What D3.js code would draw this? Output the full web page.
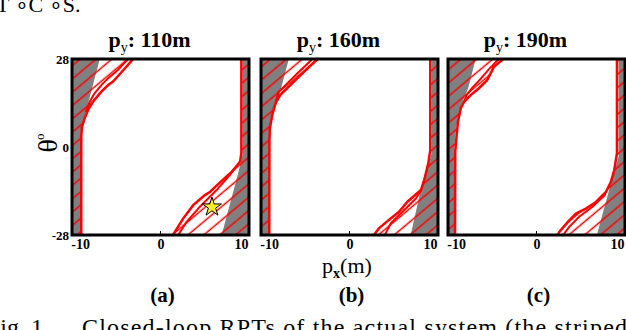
<!DOCTYPE html>
<html>
<head>
<meta charset="utf-8">
<script src="https://cdn.jsdelivr.net/npm/d3@7"></script>
<style>
  body { margin: 0; background: #fff; }
  svg { display: block; }
  svg text { font-family: "Liberation Serif", "Times New Roman", serif; }
</style>
</head>
<body>
<script>
// panel labels and titles
const panelIds = ["(a)", "(b)", "(c)"];
const pyValues = ["110m", "160m", "190m"];
const xTicks = [-10, 0, 10];
const yTicks = [-28, 0, 28];
const xDomain = [-11, 11];
const yDomain = [28, -28];

// grey (unsafe) region boundaries, [px, theta], top to bottom
const grayLeft = [
  [[-7.55, 28], [-8.5, 18.7], [-9.5, 9.1], [-9.9, 5], [-9.95, 0], [-9.95, -28]],
  [[-7.54, 28], [-8.5, 18.7], [-9.1, 13.5], [-9.5, 10.7], [-9.85, 7], [-10.0, 3], [-10.0, -28]],
  [[-7.56, 28], [-8.5, 18.7], [-9.1, 14.9], [-9.6, 11], [-10.0, 6], [-10.2, 0], [-10.2, -28]]
];
const grayRight = [
  [[10.2, 28], [10.2, -2.5], [9.9, -5.5], [9.75, -7.4], [7.6, -28]],
  [[10.2, 28], [10.2, -2], [9.9, -5], [9.1, -11], [7.6, -28]],
  [[10.2, 28], [10.2, -3], [9.8, -7], [9.1, -13], [7.5, -28]]
];

// red RPT boundaries
const redOuterLeft = [
  [[-3.4, 28], [-4.6, 24.5], [-5.9, 20.8], [-6.5, 19.7], [-7.35, 17.6], [-8.4, 14.4], [-9.0, 11.8],
   [-9.43, 9.1], [-9.76, 6.4], [-9.84, 3.8], [-9.85, 0], [-9.85, -28]],
  [[-3.96, 28], [-6.09, 22.9], [-7.54, 19.2], [-8.6, 16.6], [-9.2, 13.9], [-9.6, 10.2], [-9.9, 5.9],
   [-9.95, 2], [-9.97, -28]],
  [[-4.13, 28], [-5.29, 25.5], [-6.12, 21.3], [-7.15, 18.7], [-8.18, 16.5], [-9.0, 14.4], [-9.42, 12.3],
   [-9.76, 8.0], [-9.92, 3.8], [-10.1, -1.5], [-10.12, -28]]
];
const redInnerLeft = [
  [[-4.05, 28], [-5.3, 24.5], [-6.5, 21.9], [-7.35, 19.7], [-8.2, 17.1], [-8.8, 14.4], [-9.1, 12.5], [-9.3, 11]],
  [[-4.6, 28], [-6.5, 23.4], [-7.96, 19.7], [-8.8, 17.6], [-9.15, 14.5]],
  [[-4.7, 28], [-5.9, 24.8], [-7.0, 21.5], [-8.0, 18.8], [-8.7, 16.5], [-9.0, 14.4]]
];
const redOuterRight = [
  [[10.05, 28], [10.05, -2], [9.9, -4.5], [9.54, -5.8], [8.84, -7.9], [7.5, -11.0], [6.14, -14.3],
   [5.52, -15.3], [4.07, -18.5], [2.83, -22.7], [1.55, -28]],
  [[10.04, 28], [10.04, -1], [9.79, -5.2], [9.29, -10.5], [8.88, -13.7], [7.21, -17.4], [6.16, -20.6],
   [4.9, -23.2], [3.66, -25.9], [3.04, -28]],
  [[10.0, 28], [10.0, -2], [9.66, -7.4], [9.25, -11.1], [8.63, -14.3], [7.39, -17.5], [6.14, -19.6],
   [4.9, -21.2], [3.87, -23.9], [2.83, -27], [2.63, -28]]
];
const redInnerRight = [
  [[9.54, -5.8], [8.63, -8.9], [6.97, -13.7], [4.9, -19.0], [3.25, -23.8], [2.2, -28]],
  [[8.88, -13.9], [8.25, -16.4], [6.59, -20.6], [5.13, -24.3], [4.4, -28]],
  [[8.63, -15.0], [6.97, -19.0], [5.31, -22.2], [4.07, -25.4], [3.3, -28]]
];

// yellow star, panel (a)
const starPoint = [6.4, -19.1];

const width = 626, height = 330;
const panelLeft = [72, 261, 448];
const plotW = 177, plotTop = 59, plotBottom = 235;
const serif = "'Liberation Serif', 'Times New Roman', serif";

const svg = d3.select("body").append("svg")
  .attr("width", width).attr("height", height);

const defs = svg.append("defs");
const pat = defs.append("pattern")
  .attr("id", "hatch")
  .attr("patternUnits", "userSpaceOnUse")
  .attr("width", 20).attr("height", 10.2)
  .attr("patternTransform", "rotate(-40)");
pat.append("line")
  .attr("x1", 0).attr("x2", 20).attr("y1", 5).attr("y2", 5)
  .attr("stroke", "#ff0000").attr("stroke-width", 1.5);

panelIds.forEach((id, i) => {
  const x = d3.scaleLinear().domain(xDomain).range([panelLeft[i], panelLeft[i] + plotW]);
  const y = d3.scaleLinear().domain(yDomain).range([plotTop, plotBottom]);
  const line = d3.line().x(d => x(d[0])).y(d => y(d[1]));

  defs.append("clipPath").attr("id", "clip" + i)
    .append("rect")
    .attr("x", x(xDomain[0])).attr("y", y(yDomain[0]))
    .attr("width", x(xDomain[1]) - x(xDomain[0]))
    .attr("height", y(yDomain[1]) - y(yDomain[0]));

  const g = svg.append("g").attr("clip-path", `url(#clip${i})`);

  const leftPoly = pts => [[xDomain[0], yDomain[0]], ...pts, [xDomain[0], yDomain[1]]];
  const rightPoly = pts => [[xDomain[1], yDomain[0]], ...pts, [xDomain[1], yDomain[1]]];

  g.append("path").attr("d", line(leftPoly(grayLeft[i]))).attr("fill", "#808080");
  g.append("path").attr("d", line(rightPoly(grayRight[i]))).attr("fill", "#808080");

  g.append("path").attr("d", line(leftPoly(redOuterLeft[i]))).attr("fill", "url(#hatch)");
  g.append("path").attr("d", line(rightPoly(redOuterRight[i]))).attr("fill", "url(#hatch)");

  [redInnerLeft[i], redInnerRight[i]].forEach(pts => {
    g.append("path").attr("d", line(pts))
      .attr("fill", "none").attr("stroke", "#ff0000").attr("stroke-width", 2);
  });
  [redOuterLeft[i], redOuterRight[i]].forEach(pts => {
    g.append("path").attr("d", line(pts))
      .attr("fill", "none").attr("stroke", "#ff0000").attr("stroke-width", 2.5);
  });

  if (i === 0) {
    g.append("path")
      .attr("d", d3.symbol(d3.symbolStar, 112)())
      .attr("transform", `translate(${x(starPoint[0])},${y(starPoint[1])})`)
      .attr("fill", "#f7ec2c").attr("stroke", "#000").attr("stroke-width", 1);
  }

  // tick mark at 0 inside bottom
  svg.append("line")
    .attr("x1", x(0)).attr("x2", x(0))
    .attr("y1", y(yDomain[1])).attr("y2", y(yDomain[1]) - 4)
    .attr("stroke", "#000").attr("stroke-width", 1);

  // frame
  svg.append("rect")
    .attr("x", x(xDomain[0])).attr("y", y(yDomain[0]))
    .attr("width", x(xDomain[1]) - x(xDomain[0]))
    .attr("height", y(yDomain[1]) - y(yDomain[0]))
    .attr("fill", "none").attr("stroke", "#000").attr("stroke-width", 3);

  const xAxis = svg.append("g")
    .attr("transform", `translate(0,${plotBottom})`)
    .call(d3.axisBottom(x).tickValues(xTicks).tickSize(0).tickPadding(4).tickFormat(d => String(d)));
  xAxis.select(".domain").remove();
  xAxis.attr("font-family", null);
  xAxis.selectAll("text")
    .style("font-family", serif).attr("font-weight", "bold")
    .attr("font-size", 14).attr("fill", "#000");

  if (i === 0) {
    const yAxis = svg.append("g")
      .attr("transform", `translate(${panelLeft[0]},0)`)
      .call(d3.axisLeft(y).tickValues(yTicks).tickSize(0).tickPadding(3).tickFormat(d => String(d)));
    yAxis.select(".domain").remove();
    yAxis.attr("font-family", null);
    yAxis.selectAll("text")
      .style("font-family", serif).attr("font-weight", "bold")
      .attr("font-size", 13).attr("fill", "#000");
  }

  // title
  const cx = (x(xDomain[0]) + x(xDomain[1])) / 2;
  const t = svg.append("text")
    .attr("x", cx - 11).attr("y", 47)
    .attr("text-anchor", "middle")
    .attr("font-size", 22).attr("font-weight", "bold");
  t.append("tspan").text("p");
  t.append("tspan").attr("font-size", 14).attr("font-weight", "normal").attr("dy", 5).text("y");
  t.append("tspan").attr("dy", -5).text(": " + pyValues[i]);

  // panel caption
  svg.append("text")
    .attr("x", cx + 2).attr("y", 302)
    .attr("text-anchor", "middle")
    .attr("font-size", 21).attr("font-weight", "bold")
    .text(id);
});

// x axis label
const xl = svg.append("text")
  .attr("x", 347).attr("y", 273)
  .attr("text-anchor", "middle").attr("font-size", 22);
xl.append("tspan").text("p");
xl.append("tspan").attr("font-size", 14).attr("font-weight", "bold").attr("dy", 5).text("x");
xl.append("tspan").attr("dy", -5).text("(m)");

// y axis label
const yl = svg.append("text")
  .attr("transform", "translate(57,143) rotate(-90)")
  .attr("text-anchor", "middle").attr("font-size", 28);
yl.append("tspan").text("θ");
yl.append("tspan").attr("font-size", 13).attr("dy", -13).attr("dx", -1).text("o");

// cut-off text lines above and below the figure
svg.append("text")
  .attr("x", -4).attr("y", 12)
  .attr("font-size", 22)
  .text("T ∘C ∘S.");

svg.append("text")
  .attr("x", -13).attr("y", 335)
  .attr("font-size", 24)
  .text("Fig. 1.");
svg.append("text")
  .attr("x", 82).attr("y", 335)
  .attr("font-size", 24)
  .attr("textLength", 545).attr("lengthAdjust", "spacing")
  .text("Closed-loop RPTs of the actual system (the striped");
</script>
</body>
</html>
